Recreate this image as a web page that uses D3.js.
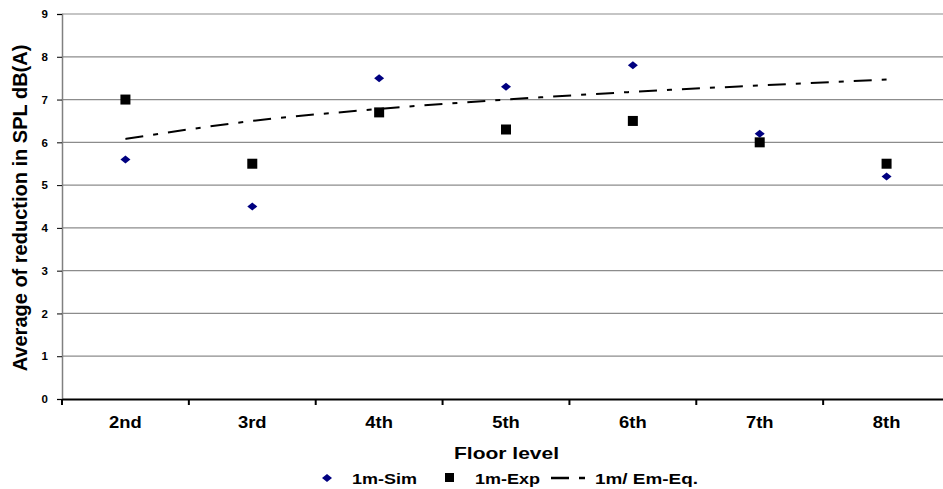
<!DOCTYPE html>
<html><head><meta charset="utf-8">
<script src="https://cdn.jsdelivr.net/npm/d3@7"></script>
<style>body{margin:0;background:#fff}svg{display:block;font-family:Arial,"Liberation Sans",sans-serif}</style>
</head><body><svg id="c" width="943" height="489"></svg>
<script>
const categories = ["2nd","3rd","4th","5th","6th","7th","8th"];
const simValues = [5.6, 4.5, 7.5, 7.3, 7.8, 6.2, 5.2];
const expValues = [7.0, 5.5, 6.7, 6.3, 6.5, 6.0, 5.5];
const eqValues = [6.08, 6.5, 6.78, 7.0, 7.18, 7.33, 7.47];
const yTicks = [0,1,2,3,4,5,6,7,8,9];

(function(){
const svg = d3.select("#c");
const FF = "Arial, Liberation Sans, sans-serif";
const pL = 62, pR = 950, pT = 14, pB = 399;
const x = d3.scaleBand().domain(categories).range([pL, pR]);
const y = d3.scaleLinear().domain([0, 9]).range([pB, pT]);
const cx = d => x(d) + x.bandwidth()/2;

svg.append("g").selectAll("line").data(yTicks.filter(t => t > 0)).join("line")
  .attr("x1", pL).attr("x2", pR).attr("y1", d => y(d)).attr("y2", d => y(d))
  .attr("stroke", "#8c8c8c").attr("stroke-width", 1.2);

const ya = svg.append("g").attr("transform", `translate(${pL},0)`)
  .call(d3.axisLeft(y).tickValues(yTicks).tickSize(5).tickPadding(9).tickFormat(d3.format("d")));
ya.select(".domain").attr("stroke", "#808080").attr("stroke-width", 1.5);
ya.selectAll(".tick line").attr("stroke", "#000");
ya.selectAll("text").attr("font-size", 11.5).attr("font-weight", "bold").attr("fill", "#000").attr("font-family", FF);

const xa = svg.append("g").attr("transform", `translate(0,${pB})`)
  .call(d3.axisBottom(x).tickSize(0));
xa.select(".domain").attr("stroke", "#000").attr("stroke-width", 2);
xa.selectAll("text").attr("font-size", 16).attr("font-weight", "bold").attr("fill", "#000")
  .attr("font-family", FF).attr("y", 29).attr("dy", null).attr("transform", "scale(1.15,1)");
svg.append("g").selectAll("line").data(categories).join("line")
  .attr("x1", d => x(d)).attr("x2", d => x(d)).attr("y1", pB).attr("y2", pB + 6)
  .attr("stroke", "#000").attr("stroke-width", 2);

svg.append("path").datum(eqValues)
  .attr("d", d3.line().x((d,i) => cx(categories[i])).y(d => y(d)).curve(d3.curveMonotoneX))
  .attr("fill", "none").attr("stroke", "#000").attr("stroke-width", 2)
  .attr("stroke-dasharray", "18,10,5,10");

const diamond = "M0,-4 L5,0 L0,4 L-5,0 Z";
svg.append("g").selectAll("path").data(simValues).join("path")
  .attr("d", diamond).attr("transform", (d,i) => `translate(${cx(categories[i])},${y(d)})`)
  .attr("fill", "#000080");

svg.append("g").selectAll("rect").data(expValues).join("rect")
  .attr("x", (d,i) => cx(categories[i]) - 5).attr("y", d => y(d) - 5)
  .attr("width", 10).attr("height", 10).attr("fill", "#000");

svg.append("text").attr("x", 454).attr("y", 459)
  .attr("font-size", 16.5).attr("font-weight", "bold").attr("font-family", FF)
  .attr("textLength", 105).attr("lengthAdjust", "spacingAndGlyphs").text("Floor level");
svg.append("text").attr("transform", "translate(27,208) rotate(-90)").attr("text-anchor", "middle")
  .attr("font-size", 20).attr("font-weight", "bold").attr("font-family", FF)
  .text("Average of reduction in SPL dB(A)");

const lg = svg.append("g").attr("font-size", 14).attr("font-weight", "bold").attr("font-family", FF);
lg.append("path").attr("d", diamond).attr("transform", "translate(327,478)").attr("fill", "#000080");
lg.append("text").attr("x", 352).attr("y", 484).attr("textLength", 65).attr("lengthAdjust", "spacingAndGlyphs").text("1m-Sim");
lg.append("rect").attr("x", 445).attr("y", 473).attr("width", 9).attr("height", 9).attr("fill", "#000");
lg.append("text").attr("x", 475).attr("y", 484).attr("textLength", 65).attr("lengthAdjust", "spacingAndGlyphs").text("1m-Exp");
lg.append("line").attr("x1", 551).attr("x2", 585).attr("y1", 478).attr("y2", 478)
  .attr("stroke", "#000").attr("stroke-width", 2.5).attr("stroke-dasharray", "18,10,6,30");
lg.append("text").attr("x", 595).attr("y", 484).attr("textLength", 103).attr("lengthAdjust", "spacingAndGlyphs").text("1m/ Em-Eq.");
})();
</script></body></html>
